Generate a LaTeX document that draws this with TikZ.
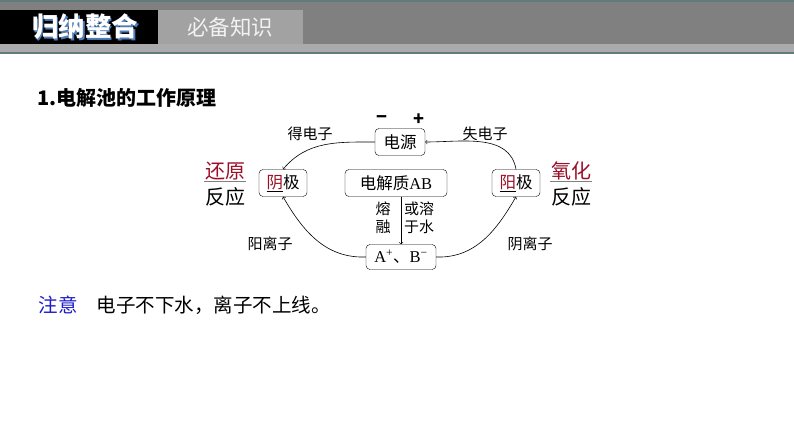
\documentclass[tikz,border=0pt]{standalone}
\usepackage{fontspec}
\setmainfont{Liberation Serif}
\newfontfamily\cjk{Noto Sans CJK SC}
\definecolor{darkred}{HTML}{9A1028}
\definecolor{noteblue}{HTML}{1C1CC8}
\definecolor{hdline}{HTML}{5E7C7C}
\definecolor{hdgray}{HTML}{808080}
\definecolor{tabgray}{HTML}{A2A2A2}
\definecolor{striplight}{HTML}{ABABAB}
\definecolor{shadowblue}{HTML}{4D7DBA}

\begin{document}
\begin{tikzpicture}[x=1pt,y=1pt,
  box/.style={draw,rounded corners=4pt,inner sep=2pt,minimum height=27pt,font=\cjk\fontsize{16.5}{19}\selectfont},
  lab/.style={inner sep=1pt,font=\cjk\fontsize{15}{17.5}\selectfont},
  react/.style={inner sep=1pt,font=\cjk\fontsize{20}{22}\selectfont},
  flow/.style={->,semithick}]
\useasboundingbox (0,0) rectangle (794,-447);
\fill[white] (0,0) rectangle (794,-447);
% header band
\fill[hdline] (0,0) rectangle (794,-2);
\fill[hdgray] (0,-2) rectangle (794,-44);
\fill[black] (0,-10) rectangle (158,-44);
\fill[tabgray] (158,-10) rectangle (303,-44);
\fill[striplight] (0,-44) rectangle (794,-52);
\fill[hdline] (0,-52) rectangle (794,-53.5);
\node (hdshadow) [text=shadowblue,font=\cjk\bfseries\fontsize{26.5}{28}\selectfont] at (86.5,-28.5) {归纳整合};
\node (hd) [text=white,font=\cjk\bfseries\fontsize{26.5}{28}\selectfont] at (85,-27) {归纳整合};
\node (tab) [text=white!90!gray,font=\cjk\fontsize{21.5}{23}\selectfont] at (230,-27) {必备知识};
% title
\node (ttl) [anchor=west,font=\cjk\bfseries\fontsize{20}{22}\selectfont] at (34,-98) {1.电解池的工作原理};
% boxes
\node (src) [box,minimum width=50pt] at (400,-142) {电源};
\node (minus) [lab,font=\cjk\bfseries\fontsize{18}{20}\selectfont] at (382,-120) {−};
\node (plus) [lab,font=\cjk\bfseries\fontsize{18}{20}\selectfont] at (419,-120) {+};
\node (cat) [box,minimum width=48pt] at (283,-183) {\underline{\textcolor{darkred}{阴}}极};
\node (elec) [box,minimum width=102pt] at (396,-183) {电解质{\rmfamily AB}};
\node (ano) [box,minimum width=48pt] at (516,-183) {\underline{\textcolor{darkred}{阳}}极};
\node (ion) [box,minimum width=70pt,minimum height=25pt] at (401,-257) {{\rmfamily A\textsuperscript{+}}、{\rmfamily B\textsuperscript{−}}};
% reaction type
\node (red1) [react,text=darkred] at (225,-171) {还原};
\node (red2) [react] at (225,-197) {反应};
\draw[gray] (red1.south west) -- (red1.south east);
\node (ox1) [react,text=darkred] at (571,-171) {氧化};
\node (ox2) [react] at (571,-197) {反应};
\draw[gray] (ox1.south west) -- (ox1.south east);
% connectors
\draw[flow] (src.west) to[out=180,in=50] (cat.north);
\draw[flow] (ano.north) to[out=100,in=0] (src.east);
\draw[flow] (ion.west) to[out=182,in=-60] (cat.south);
\draw[flow] (ion.east) to[out=-2,in=-120] (ano.south);
\draw[flow] (ion.north |- elec.south) -- (ion.north);
% labels
\node (gain) [lab] at (310,-134) {得电子};
\node (lose) [lab] at (485,-134) {失电子};
\node (cation) [lab] at (270,-244) {阳离子};
\node (anion) [lab] at (530,-244) {阴离子};
\node (melt) [lab,align=center] at (383,-218) {熔\\融};
\node (solv) [lab,align=center] at (419,-218) {或溶\\于水};
% note
\node (note) [anchor=west,text=noteblue,font=\cjk\fontsize{19.5}{22}\selectfont] at (35,-305) {注意};
\node (rule) [anchor=west,font=\cjk\fontsize{19.5}{22}\selectfont] at (93,-305) {电子不下水，离子不上线。};
\end{tikzpicture}
\end{document}
